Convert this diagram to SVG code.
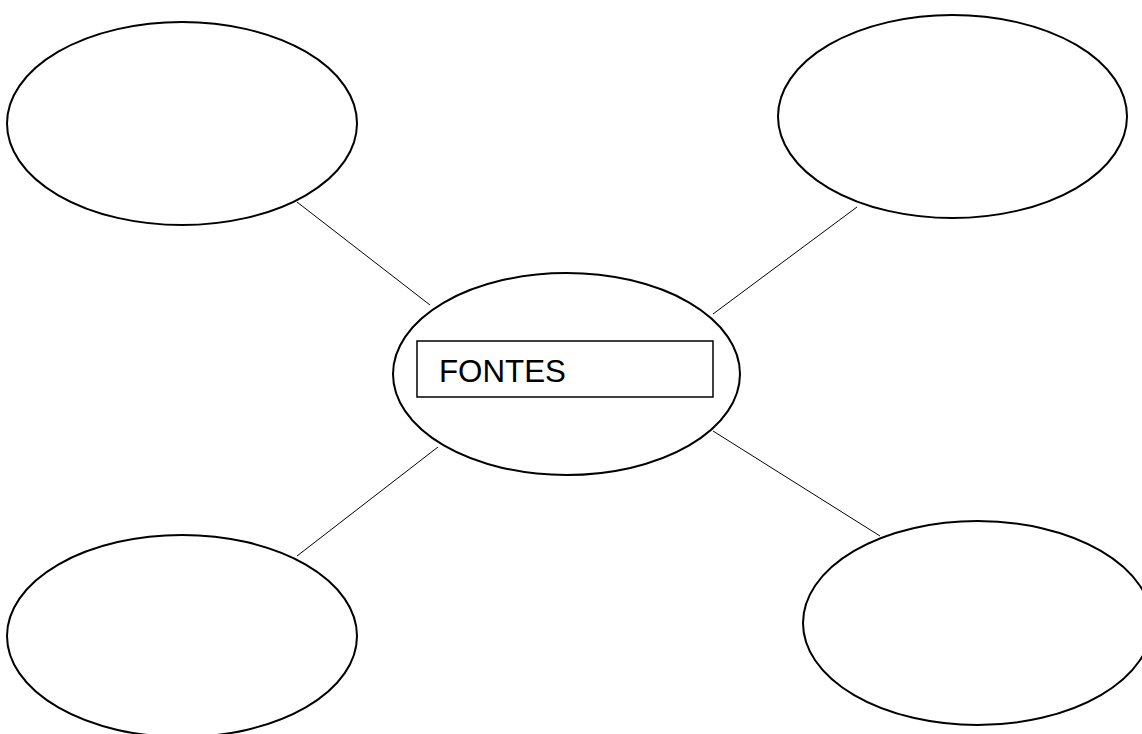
<svg xmlns="http://www.w3.org/2000/svg" width="1142" height="734" viewBox="0 0 1142 734">
  <style>
    .bubble { fill: #ffffff; stroke: #000000; stroke-width: 2; }
    .link { stroke: #000000; stroke-width: 1; fill: none; }
    .label-box { fill: #ffffff; stroke: #000000; stroke-width: 1.5; }
    .label { font-family: "Liberation Sans", Arial, sans-serif; font-size: 31.3px; fill: #000000; }
  </style>
  <rect width="1142" height="734" fill="#ffffff"/>

  <!-- spokes from the central bubble to the four outer bubbles -->
  <g id="connectors">
    <line class="link" x1="297" y1="202" x2="430" y2="305"/>
    <line class="link" x1="857" y1="207" x2="713" y2="314"/>
    <line class="link" x1="438" y1="447" x2="297" y2="556"/>
    <line class="link" x1="713" y1="431" x2="880" y2="536"/>
  </g>

  <g id="node-top-left">
    <ellipse class="bubble" cx="182" cy="123.5" rx="175" ry="101.5"/>
  </g>
  <g id="node-top-right">
    <ellipse class="bubble" cx="952.5" cy="116.5" rx="174.5" ry="101.5"/>
  </g>
  <g id="node-bottom-left">
    <ellipse class="bubble" cx="182" cy="636" rx="175" ry="101"/>
  </g>
  <g id="node-bottom-right">
    <ellipse class="bubble" cx="977.5" cy="623" rx="174.5" ry="102"/>
  </g>

  <g id="node-center">
    <ellipse class="bubble" cx="566.5" cy="374" rx="173.5" ry="101"/>
    <rect class="label-box" x="417" y="341" width="296" height="56"/>
    <text class="label" x="439" y="382">FONTES</text>
  </g>
</svg>
